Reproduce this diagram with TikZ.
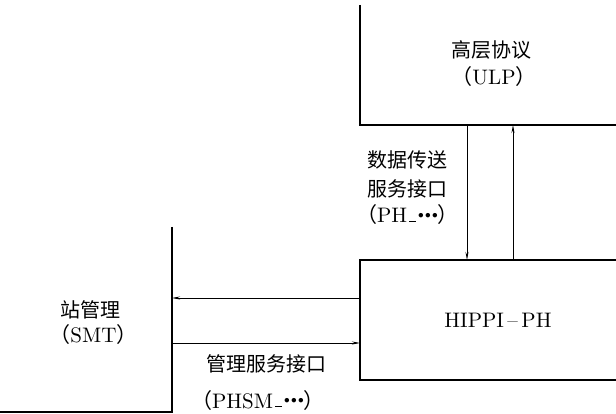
\documentclass[tikz,border=0pt]{standalone}
\usepackage{fontspec}
\setmainfont{lmroman10-regular.otf}
\newfontfamily\cjk{Noto Sans CJK SC}
\usetikzlibrary{arrows.meta}
\newcommand\mydd{\raisebox{0.2em}{\scalebox{0.55}{${\bullet}\mkern2mu{\bullet}\mkern2mu{\bullet}$}}}
\newcommand\myus{\hspace{2pt}\rule[1.5pt]{7pt}{0.9pt}\hspace{2pt}}
\newcommand\lp{{\cjk （}}
\newcommand\rp{{\cjk ）}}
\begin{document}
\begin{tikzpicture}[x=1pt,y=-1pt,
  wall/.style={line width=2.2pt},
  conn/.style={line width=0.8pt,-{Stealth[length=8pt,width=3pt]}},
  lab/.style={font=\fontsize{21}{23}\selectfont, inner sep=0pt},
  cn/.style={lab, font=\fontsize{20}{22}\selectfont\cjk}]
\useasboundingbox (0,0) rectangle (616,414);
% partial boxes
\draw[wall] (360,5) -- (360,125) -- (616,125);
\draw[wall] (616,260) -- (360,260) -- (360,380) -- (616,380);
\draw[wall] (172,227) -- (172,412) -- (0,412);
% interface points
\coordinate (ulpdn) at (467,125);
\coordinate (phdn) at (467,260);
\coordinate (ulpup) at (513,125);
\coordinate (phup) at (513,260);
\coordinate (phl1) at (360,298);
\coordinate (smt1) at (172,298);
\coordinate (smt2) at (172,343);
\coordinate (phl2) at (360,343);
% connectors
\draw[conn] (ulpdn) -- (phdn);
\draw[conn] (phup) -- (ulpup);
\draw[conn] (phl1) -- (smt1);
\draw[conn] (smt2) -- (phl2);
% labels
\node[cn] (ulp) at (491,49.5) {高层协议};
\node[lab,anchor=base] (ulpen) at (494,85) {\lp ULP\rp};
\node[cn] (dt1) at (407,160) {数据传送};
\node[cn] (dt2) at (407,188.5) {服务接口};
\node[lab,anchor=base] (dt3) at (407.5,223) {\lp PH\myus\mydd\rp};
\node[lab,anchor=base] (ph) at (498,327) {HIPPI\,–\,PH};
\node[cn] (smt) at (90,309.5) {站管理};
\node[lab,anchor=base] (smten) at (93.5,342) {\lp SMT\rp};
\node[cn] (ms1) at (266,363.5) {管理服务接口};
\node[lab,anchor=base] (ms2) at (258,408) {\lp PHSM\myus\mydd\rp};
\end{tikzpicture}
\end{document}
